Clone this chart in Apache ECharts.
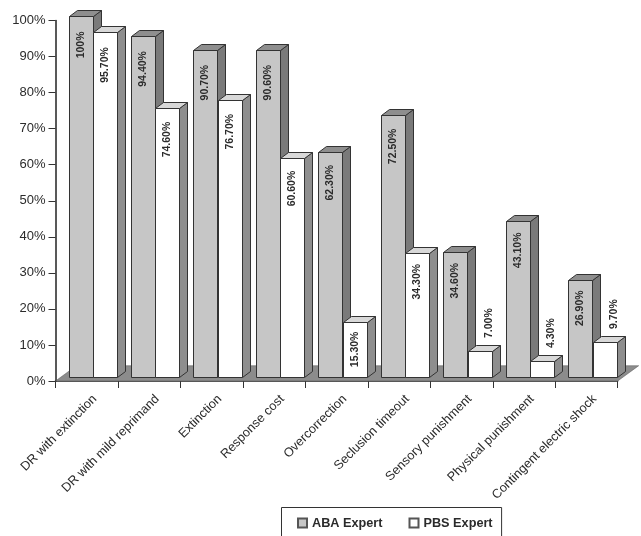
<!DOCTYPE html>
<html>
<head>
<meta charset="utf-8">
<style>html,body{margin:0;padding:0;background:#fff}#chart{width:641px;height:536px}</style>
<script src="https://cdn.jsdelivr.net/npm/echarts@6/dist/echarts.min.js"></script>
</head>
<body>
<div id="chart"></div>
<script>
const categories = ['DR with extinction','DR with mild reprimand','Extinction','Response cost','Overcorrection','Seclusion timeout','Sensory punishment','Physical punishment','Contingent electric shock'];
const abaValues = [100, 94.4, 90.7, 90.6, 62.3, 72.5, 34.6, 43.1, 26.9];
const pbsValues = [95.7, 74.6, 76.7, 60.6, 15.3, 34.3, 7.0, 4.3, 9.7];
const abaLabels = ['100%','94.40%','90.70%','90.60%','62.30%','72.50%','34.60%','43.10%','26.90%'];
const pbsLabels = ['95.70%','74.60%','76.70%','60.60%','15.30%','34.30%','7.00%','4.30%','9.70%'];

// Oblique projection used for the pseudo-3D bars and floor
const FONT = '"Liberation Sans", Arial, sans-serif';
const INK = '#2b2b2b';
const BAR_DX = 8, BAR_DY = -6;
const FLOOR_DX = 21, FLOOR_DY = -15.3;
const FRONT_X = 13, FRONT_Y = -4.3;

const ABA_STYLE = {front:'#c6c6c6', side:'#7a7a7a', top:'#8e8e8e'};
const PBS_STYLE = {front:'#ffffff', side:'#8e8e8e', top:'#d8d8d8'};

function barRenderer(slot, palette, labels) {
  return function (params, api) {
    const idx = api.value(0);
    const value = api.value(1);
    const band = api.size([1, 0])[0];
    const w = (band - 13.9) / 2;
    const top = api.coord([idx, value]);
    const base = api.coord([idx, 0]);
    const x0 = Math.round(top[0] - band / 2 + FRONT_X + slot * w) + 0.5;
    const x1 = x0 + Math.round(w);
    const yT = Math.round(top[1] + FRONT_Y) + 0.5;
    const yB = Math.round(base[1] + FRONT_Y) + 0.5;
    const edge = {stroke: '#333', lineWidth: 1};
    const poly = (pts, fill) => ({type:'polygon', shape:{points:pts}, style:Object.assign({fill}, edge)});
    // Short bars carry their label above the bar, clear of the depth face
    const outside = yB - yT < 40;
    const inset = 8 + 0.07 * value;
    const children = [
      poly([[x1,yT],[x1+BAR_DX,yT+BAR_DY],[x1+BAR_DX,yB+BAR_DY],[x1,yB]], palette.side),
      poly([[x0,yT],[x0+BAR_DX,yT+BAR_DY],[x1+BAR_DX,yT+BAR_DY],[x1,yT]], palette.top),
      poly([[x0,yT],[x1,yT],[x1,yB],[x0,yB]], palette.front),
      {
        type:'text',
        x:(x0 + x1) / 2 + (outside ? 9 : 0),
        y: outside ? yT - 13.5 : yT + inset,
        rotation: Math.PI / 2,
        style:{
          text: labels[idx],
          font: 'bold 10.5px ' + FONT,
          fill: INK,
          textAlign: outside ? 'left' : 'right',
          textVerticalAlign: 'middle'
        }
      }
    ];
    return {type:'group', children};
  };
}

function floorRenderer(params) {
  const r = params.coordSys;
  const yF = r.y + r.height;
  const xL = r.x, xR = r.x + r.width;
  return {
    type:'polygon',
    shape:{points:[[xL,yF],[xR,yF],[xR+FLOOR_DX,yF+FLOOR_DY],[xL+FLOOR_DX,yF+FLOOR_DY]]},
    style:{fill:'#8c8c8c', stroke:'#555', lineWidth:0.5}
  };
}

const chart = echarts.init(document.getElementById('chart'), null, {renderer:'canvas'});
chart.setOption({
  animation:false,
  backgroundColor:'#fff',
  grid:{left:55.5, right:23.3, top:20.5, bottom:155},
  xAxis:{
    type:'category',
    data:categories,
    axisLine:{lineStyle:{color:'#222', width:1.5}},
    axisTick:{show:true, length:7, lineStyle:{color:'#333', width:1}},
    axisLabel:{interval:0, rotate:45, margin:8, verticalAlign:'top', padding:[5,0,0,0], color:INK, fontFamily:FONT, fontSize:12.7}
  },
  yAxis:{
    type:'value',
    min:0, max:100, interval:10,
    splitLine:{show:false},
    axisLine:{show:true, lineStyle:{color:'#222', width:1.5}},
    axisTick:{show:true, length:7, lineStyle:{color:'#333', width:1}},
    axisLabel:{formatter:'{value}%', margin:10, color:INK, fontFamily:FONT, fontSize:13}
  },
  legend:{
    left:281.5, top:507.5,
    orient:'horizontal',
    data:['ABA Expert','PBS Expert'],
    icon:'rect',
    itemWidth:9, itemHeight:9, itemGap:26,
    padding:[9,9,9,15.5],
    borderColor:'#333', borderWidth:1,
    backgroundColor:'#fff',
    textStyle:{fontFamily:FONT, fontWeight:'bold', fontSize:12.7, color:INK}
  },
  series:[
    {type:'custom', name:'floor', z:1, silent:true, renderItem:floorRenderer, data:[[0,0]], clip:false},
    {type:'custom', name:'ABA Expert', z:2, clip:false,
      itemStyle:{color:'#c6c6c6', borderColor:'#555', borderWidth:0.75},
      renderItem:barRenderer(0, ABA_STYLE, abaLabels),
      encode:{x:0,y:1},
      data:abaValues.map((v,i)=>[i,v])},
    {type:'custom', name:'PBS Expert', z:3, clip:false,
      itemStyle:{color:'#fff', borderColor:'#555', borderWidth:0.75},
      renderItem:barRenderer(1, PBS_STYLE, pbsLabels),
      encode:{x:0,y:1},
      data:pbsValues.map((v,i)=>[i,v])}
  ]
});
</script>
</body>
</html>
